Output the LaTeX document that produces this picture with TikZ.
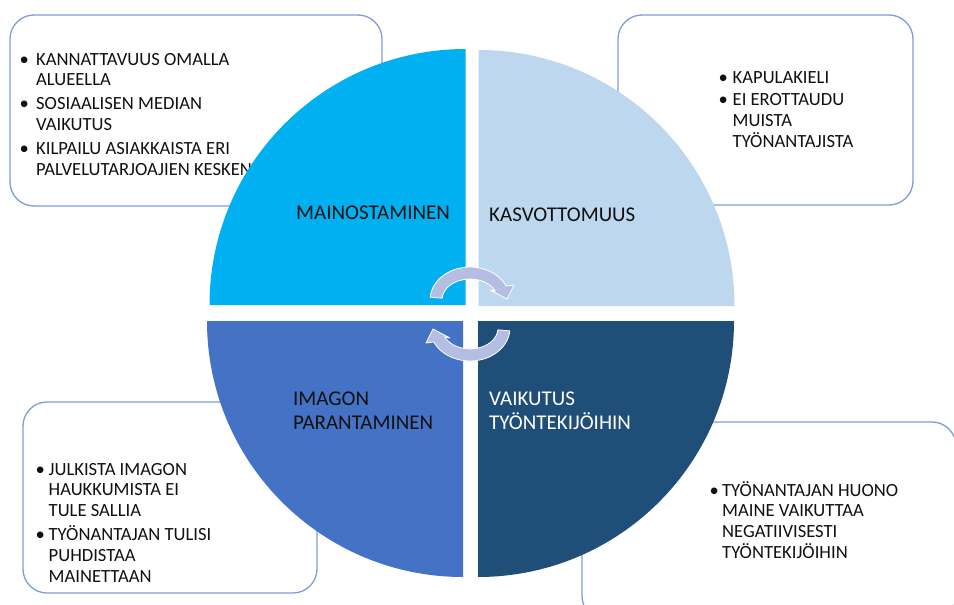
\documentclass[tikz,border=0pt]{standalone}
\usepackage{fontspec}
\setmainfont{Carlito}

\definecolor{segAds}{HTML}{00B0F0}
\definecolor{segFace}{HTML}{BDD7EE}
\definecolor{segImage}{HTML}{4472C4}
\definecolor{segStaff}{HTML}{1F4E79}
\definecolor{frameBlue}{HTML}{7E9ED9}
\definecolor{cycleFill}{HTML}{B3BEE2}
\definecolor{inkDark}{HTML}{111111}

% bullet cell of a given width
\newcommand\bul[1]{\makebox[#1][l]{\textbullet}}

\begin{document}
\begin{tikzpicture}[x=1pt,y=-1pt,
  infobox/.style={draw=frameBlue, line width=1.3pt, rounded corners=24pt, fill=white},
  itemtext/.style={anchor=base west, inner sep=0pt, text=inkDark, font=\fontsize{18.6}{20.8}\selectfont},
  seglabel/.style={anchor=base west, inner sep=0pt, text=inkDark, font=\fontsize{21}{24}\selectfont},
  swirlstyle/.style={fill=cycleFill, draw=white, line width=0.8pt, line join=round},
  swirl/.pic={
    \path[swirlstyle] (-39.84,-2.88)
      arc[start angle=185, end angle=335, x radius=40, y radius=33]
      -- (44,-15) -- (37,-1) -- (20,-10) -- (25.38,-8.87)
      arc[start angle=335, end angle=185, x radius=28, y radius=21]
      -- cycle;
  }]

\clip (0,0) rectangle (954,605);
\fill[white] (0,0) rectangle (954,605);

% side boxes
\path[infobox] (10,15) rectangle (382,206);
\path[infobox] (618,15) rectangle (913,205);
\path[infobox] (23,402) rectangle (317,593);
\path[infobox] (582,422) rectangle (956,620);

\node[itemtext] (adsList) at (19.5,65) {\begin{tabular}[t]{@{}l@{}l@{}}
  \bul{16.5pt} & KANNATTAVUUS OMALLA\\
               & ALUEELLA\\[3pt]
  \bul{16.5pt} & SOSIAALISEN MEDIAN\\
               & VAIKUTUS\\[3pt]
  \bul{16.5pt} & KILPAILU ASIAKKAISTA ERI\\
               & PALVELUTARJOAJIEN KESKEN
  \end{tabular}};

\node[itemtext] (faceList) at (718.5,83) {\begin{tabular}[t]{@{}l@{}l@{}}
  \bul{14pt} & KAPULAKIELI\\[2pt]
  \bul{14pt} & EI EROTTAUDU\\
             & MUISTA\\
             & TYÖNANTAJISTA
  \end{tabular}};

\node[itemtext] (imageList) at (35.5,475) {\begin{tabular}[t]{@{}l@{}l@{}}
  \bul{13pt} & JULKISTA IMAGON\\
             & HAUKKUMISTA EI\\
             & TULE SALLIA\\[3pt]
  \bul{13pt} & TYÖNANTAJAN TULISI\\
             & PUHDISTAA\\
             & MAINETTAAN
  \end{tabular}};

\node[itemtext] (staffList) at (709.5,496) {\begin{tabular}[t]{@{}l@{}l@{}}
  \bul{12.5pt} & TYÖNANTAJAN HUONO\\
               & MAINE VAIKUTTAA\\
               & NEGATIIVISESTI\\
               & TYÖNTEKIJÖIHIN
  \end{tabular}};

% four quarter discs
\fill[segAds] (465.5,305) -- (209.5,305) arc[start angle=180, end angle=270, radius=256] -- cycle;
\fill[segFace] (478.5,306) -- (478.5,50) arc[start angle=270, end angle=360, radius=256] -- cycle;
\fill[segStaff] (478,321) -- (734,321) arc[start angle=0, end angle=90, radius=256] -- cycle;
\fill[segImage] (463,321) -- (463,577) arc[start angle=90, end angle=180, radius=256] -- cycle;

% quarter labels
\node[seglabel] (labAds) at (296,219.5) {MAINOSTAMINEN};
\node[seglabel] (labFace) at (489,221.5) {KASVOTTOMUUS};
\node[seglabel] (labImage) at (293,405.5) {\begin{tabular}[t]{@{}l@{}}IMAGON\\PARANTAMINEN\end{tabular}};
\node[seglabel, text=white] (labStaff) at (489,405.5) {\begin{tabular}[t]{@{}l@{}}VAIKUTUS\\TYÖNTEKIJÖIHIN\end{tabular}};

% cycle arrows in the middle
\pic at (470,300) {swirl};
\pic[rotate=180] at (470,328) {swirl};

\end{tikzpicture}
\end{document}
